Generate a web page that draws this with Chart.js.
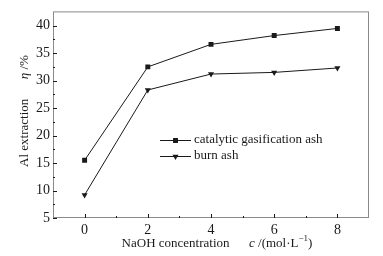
<!DOCTYPE html>
<html>
<head>
<meta charset="utf-8">
<script src="https://cdn.jsdelivr.net/npm/chart.js@4/dist/chart.umd.min.js"></script>
<style>
  html, body { margin: 0; padding: 0; background: #fff; }
</style>
</head>
<body>
<canvas id="chart" width="383" height="256"></canvas>
<script>
// data
const concentrations = [0, 2, 4, 6, 8];
const catalyticAsh = [15.5, 32.5, 36.6, 38.2, 39.5];
const burnAsh = [9.2, 28.3, 31.2, 31.5, 32.3];
const seriesNames = ["catalytic gasification ash", "burn ash"];

const xTicks = [0, 2, 4, 6, 8];
const xMinor = [1, 3, 5, 7];
const yTicks = [5, 10, 15, 20, 25, 30, 35, 40];
const yMinor = [7.5, 12.5, 17.5, 22.5, 27.5, 32.5, 37.5];

const FONT = "'Liberation Serif', 'Times New Roman', serif";
const INK = "#1a1a1a";

function drawParts(ctx, parts, x, y) {
  // parts: [text, italic, sup]
  let cx = x;
  for (const p of parts) {
    const size = p[2] ? 9 : 13;
    ctx.font = (p[1] ? "italic " : "") + size + "px " + FONT;
    ctx.fillText(p[0], cx, p[2] ? y - 5 : y);
    cx += ctx.measureText(p[0]).width;
  }
}
function partsWidth(ctx, parts) {
  let w = 0;
  for (const p of parts) {
    const size = p[2] ? 9 : 13;
    ctx.font = (p[1] ? "italic " : "") + size + "px " + FONT;
    w += ctx.measureText(p[0]).width;
  }
  return w;
}

const frame = {
  id: "frame",
  afterDraw(chart) {
    const ctx = chart.ctx;
    const a = chart.chartArea;
    const xs = chart.scales.x, ys = chart.scales.y;
    ctx.save();

    // box
    ctx.strokeStyle = "#8a8a8a";
    ctx.lineWidth = 1;
    ctx.strokeRect(a.left + 0.5, a.top + 0.5, a.right - a.left - 1, a.bottom - a.top - 1);

    // inward ticks
    ctx.strokeStyle = INK;
    ctx.beginPath();
    xTicks.forEach(v => {
      const px = Math.round(xs.getPixelForValue(v)) + 0.5;
      ctx.moveTo(px, a.bottom); ctx.lineTo(px, a.bottom - 4);
    });
    xMinor.forEach(v => {
      const px = Math.round(xs.getPixelForValue(v)) + 0.5;
      ctx.moveTo(px, a.bottom); ctx.lineTo(px, a.bottom - 2);
    });
    yTicks.forEach(v => {
      const py = Math.round(ys.getPixelForValue(v)) + 0.5;
      ctx.moveTo(a.left, py); ctx.lineTo(a.left + 4, py);
    });
    yMinor.forEach(v => {
      const py = Math.round(ys.getPixelForValue(v)) + 0.5;
      ctx.moveTo(a.left, py); ctx.lineTo(a.left + 2, py);
    });
    ctx.stroke();

    // legend inside the plot
    ctx.fillStyle = INK;
    ctx.textBaseline = "middle";
    ctx.textAlign = "left";
    chart.data.datasets.forEach((ds, i) => {
      const ly = 140 + i * 16;
      ctx.strokeStyle = INK;
      ctx.lineWidth = 1;
      ctx.beginPath();
      ctx.moveTo(160, ly + 0.5); ctx.lineTo(191, ly + 0.5);
      ctx.stroke();
      Chart.helpers.drawPoint(ctx, {
        pointStyle: ds.pointStyle, radius: ds.pointRadius,
        rotation: ds.pointRotation || 0, borderWidth: 0
      }, 175.5, ly + 0.5);
      ctx.font = "13px " + FONT;
      ctx.fillText(ds.label, 194, ly);
    });

    // axis titles
    ctx.textBaseline = "middle";
    const xt = [["NaOH concentration      ", false], ["c", true], [" /(mol\u00b7L", false], ["\u22121", false, true], [")", false]];
    const xw = partsWidth(ctx, xt);
    drawParts(ctx, xt, 217 - xw / 2, 244);

    const yt = [["Al extraction      ", false], ["\u03b7", true], [" /%", false]];
    const yw = partsWidth(ctx, yt);
    ctx.translate(25, 111);
    ctx.rotate(-Math.PI / 2);
    drawParts(ctx, yt, -yw / 2, 0);

    ctx.restore();
  }
};

new Chart(document.getElementById("chart"), {
  type: "line",
  data: {
    datasets: [
      {
        label: seriesNames[0],
        data: concentrations.map((c, i) => ({ x: c, y: catalyticAsh[i] })),
        borderColor: INK, backgroundColor: INK, borderWidth: 1,
        pointStyle: "rect", pointRadius: 3.5, pointBorderWidth: 0,
        tension: 0
      },
      {
        label: seriesNames[1],
        data: concentrations.map((c, i) => ({ x: c, y: burnAsh[i] })),
        borderColor: INK, backgroundColor: INK, borderWidth: 1,
        pointStyle: "triangle", pointRotation: 180, pointRadius: 3.5, pointBorderWidth: 0,
        tension: 0
      }
    ]
  },
  options: {
    responsive: false,
    animation: false,
    layout: { padding: { top: 10, right: 14, left: 0, bottom: 0 } },
    plugins: { legend: { display: false }, tooltip: { enabled: false } },
    scales: {
      x: {
        type: "linear", min: -1, max: 9,
        afterBuildTicks: s => { s.ticks = xTicks.map(v => ({ value: v })); },
        afterFit: s => { s.height = 38; },
        grid: { display: false, drawTicks: false }, border: { display: false },
        ticks: { color: INK, padding: 4, font: { family: FONT, size: 14 } }
      },
      y: {
        type: "linear", min: 5, max: 42.6,
        afterBuildTicks: s => { s.ticks = yTicks.map(v => ({ value: v })); },
        afterFit: s => { s.width = 53; },
        grid: { display: false, drawTicks: false }, border: { display: false },
        ticks: { color: INK, padding: 3, font: { family: FONT, size: 14 } }
      }
    }
  },
  plugins: [frame]
});
</script>
</body>
</html>
